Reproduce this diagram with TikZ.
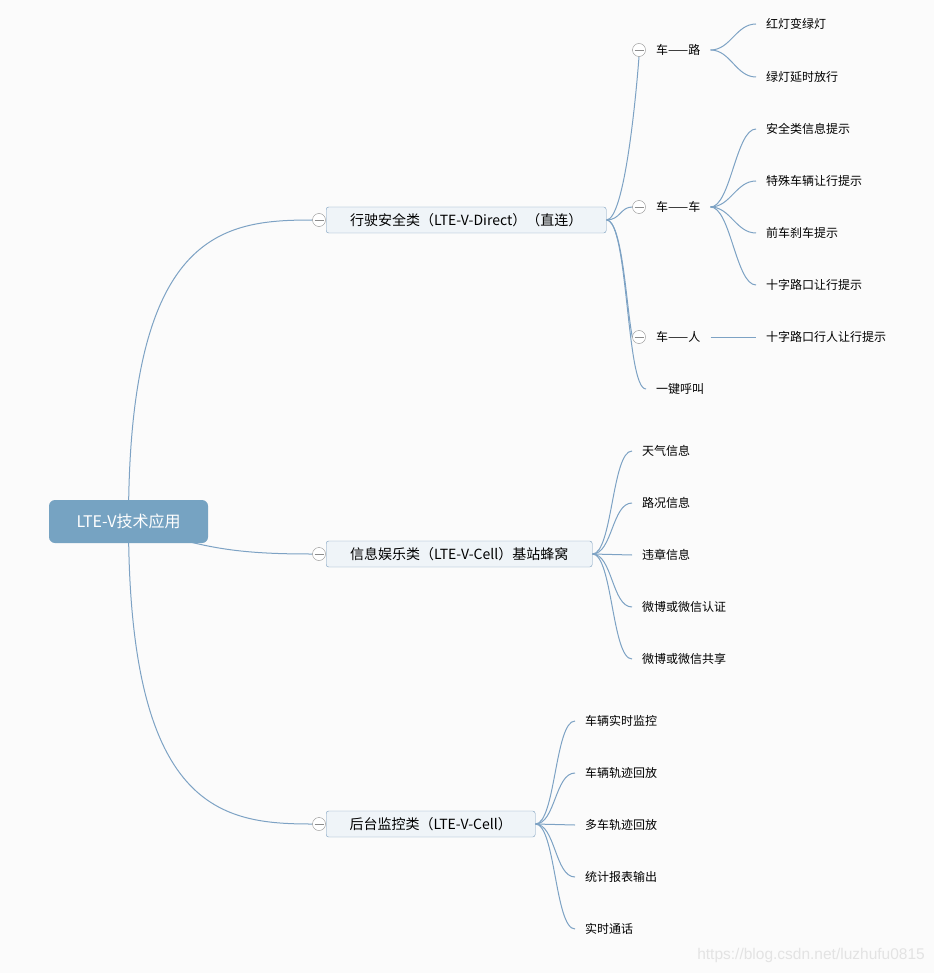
\documentclass[tikz,border=0pt]{standalone}
\usepackage{fontspec}
\setmainfont{Noto Sans CJK SC}
\newfontfamily\markfont{Liberation Sans}
\usetikzlibrary{backgrounds}
\definecolor{bgcol}{RGB}{251,251,251}
\definecolor{rootcol}{RGB}{118,163,194}
\definecolor{linecol}{RGB}{125,162,196}
\definecolor{boxfill}{RGB}{239,244,248}
\definecolor{boxline}{RGB}{120,156,188}
\definecolor{foldcol}{RGB}{140,140,140}

\begin{document}
\begin{tikzpicture}[
    x=1pt, y=-1pt,
    root/.style={rectangle, rounded corners=6pt, fill=rootcol, text=white, font=\fontsize{16}{18}\selectfont, minimum width=159pt, minimum height=43pt, inner sep=0pt}, % central topic
    topic/.style={rectangle, rounded corners=2.5pt, draw=boxline, fill=boxfill, font=\fontsize{14}{16}\selectfont, minimum height=26pt, inner sep=0pt, anchor=west}, % main branches
    fold/.style={circle, draw=foldcol, fill=white, inner sep=0pt, minimum size=13pt,
        path picture={\draw[foldcol] ([xshift=-4.5pt]path picture bounding box.center) -- ([xshift=4.5pt]path picture bounding box.center);}}, % collapse button
    sub/.style={font=\fontsize{12}{14}\selectfont, anchor=west, inner xsep=10pt, inner ysep=2pt}, % sub topics
    conn/.style={draw=linecol, line width=1pt}
  ]
  % central topic and main branches
  \node[root] (root) at (128.5,521.5) {LTE-V技术应用};
  \node[topic, minimum width=280pt] (safety) at (326,220) {行驶安全类（LTE-V-Direct）（直连）};
  \node[topic, minimum width=266pt] (info) at (326,554) {信息娱乐类（LTE-V-Cell）基站蜂窝};
  \node[topic, minimum width=209pt] (backend) at (326,824) {后台监控类（LTE-V-Cell）};
  \node[fold] (fsafety) at (319,220) {};
  \node[fold] (finfo) at (319,554) {};
  \node[fold] (fbackend) at (319,824) {};

  % driving safety
  \node[fold] (froad) at (639,50) {};
  \node[sub] (road) at (646,50) {车——路};
  \node[fold] (fcar) at (639,207) {};
  \node[sub] (car) at (646,207) {车——车};
  \node[fold] (fperson) at (639,337) {};
  \node[sub] (person) at (646,337) {车——人};
  \node[sub] (call) at (646,389) {一键呼叫};

  \node[sub] (redgreen) at (756,24) {红灯变绿灯};
  \node[sub] (greendelay) at (756,77) {绿灯延时放行};
  \node[sub] (warning) at (756,129) {安全类信息提示};
  \node[sub] (special) at (756,181) {特殊车辆让行提示};
  \node[sub] (brake) at (756,233) {前车刹车提示};
  \node[sub] (cross) at (756,285) {十字路口让行提示};
  \node[sub] (walker) at (756,337) {十字路口行人让行提示};

  % infotainment
  \node[sub] (weather) at (632,451) {天气信息};
  \node[sub] (traffic) at (632,503) {路况信息};
  \node[sub] (violation) at (632,555) {违章信息};
  \node[sub] (auth) at (632,607) {微博或微信认证};
  \node[sub] (share) at (632,659) {微博或微信共享};

  % backend monitoring
  \node[sub] (monitor) at (575,721) {车辆实时监控};
  \node[sub] (replay) at (575,773) {车辆轨迹回放};
  \node[sub] (multi) at (575,825) {多车轨迹回放};
  \node[sub] (report) at (575,877) {统计报表输出};
  \node[sub] (talk) at (575,929) {实时通话};

  \node[font=\markfont\fontsize{15.5}{17}\selectfont, text=black!11, anchor=east, inner sep=0pt] (mark) at (925,955) {https://blog.csdn.net/luzhufu0815};

  \begin{pgfonlayer}{background}
    \fill[bgcol] (0,0) rectangle (934,973);
    % root to branches
    \draw[conn] (root.center) .. controls +(0,-290) and +(-90,0) .. (fsafety.west);
    \draw[conn] (root.center) .. controls +(70,28) and +(-70,0) .. (finfo.west);
    \draw[conn] (root.center) .. controls +(0,290) and +(-90,0) .. (fbackend.west);
    % safety
    \draw[conn] (safety.east) .. controls +(18,0) and +(-3,40) .. (froad.south);
    \draw[conn] (safety.east) .. controls +(14,0) and +(-12,0) .. (fcar.west);
    \draw[conn] (safety.east) .. controls +(16,0) and +(-6,-30) .. (fperson.west);
    \draw[conn] (safety.east) .. controls +(22,0) and +(-20,0) .. (call.west);
    \foreach \leaf in {redgreen,greendelay}
      \draw[conn] (road.east) .. controls +(20,0) and +(-20,0) .. (\leaf.west);
    \foreach \leaf in {warning,special,brake,cross}
      \draw[conn] (car.east) .. controls +(20,0) and +(-20,0) .. (\leaf.west);
    \draw[conn] (person.east) -- (walker.west);
    % infotainment
    \foreach \leaf in {weather,traffic,violation,auth,share}
      \draw[conn] (info.east) .. controls +(20,0) and +(-20,0) .. (\leaf.west);
    % backend
    \foreach \leaf in {monitor,replay,multi,report,talk}
      \draw[conn] (backend.east) .. controls +(20,0) and +(-20,0) .. (\leaf.west);
  \end{pgfonlayer}
\end{tikzpicture}
\end{document}
